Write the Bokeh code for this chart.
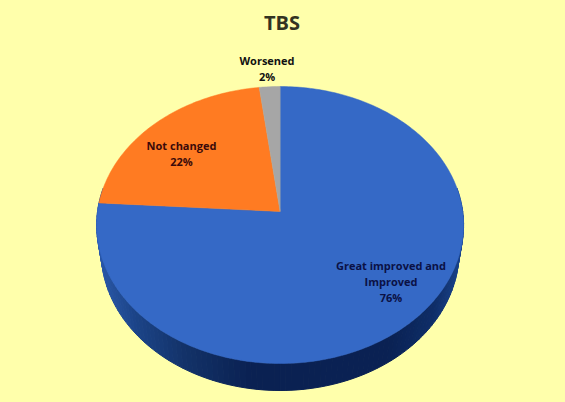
import numpy as np
from bokeh.plotting import figure
from bokeh.embed import file_html
from bokeh.resources import INLINE
from bokeh.core.properties import value

# ---- chart data ----
title = "TBS"
categories = ["Great improved and Improved", "Not changed", "Worsened"]
values = [76, 22, 2]
colors = ["#3569C6", "#FF7B22", "#A6A6A6"]
label_lines = [["Great improved and", "Improved", "76%"], ["Not changed", "22%"], ["Worsened", "2%"]]
label_colors = ["#0B1145", "#3A0A0A", "#111111"]

# ---- layout (page pixels) ----
BG = "#FFFFAB"
W, H = 565, 402
AX, AY = 279.6, 211.0          # apex of the pie on the page
RX, RY, PERSP = 182.6, 137.2, 0.0975
LABEL_POS = [(390.5, 264.5), (181, 145), (266.5, 60)]
LINE_H = 16.2


def project(theta, rx=RX, ry=RY, cx=AX, cy=AY):
    """Clockwise angle from top on a flat disc -> page pixels with perspective."""
    u, v = np.sin(theta), np.cos(theta)
    d = 1 + PERSP * v
    return cx + rx * u / d, cy - ry * v / d


p = figure(width=W, height=H, x_range=(0, W), y_range=(H, 0),
           output_backend="svg", toolbar_location=None,
           background_fill_color=BG, border_fill_color=BG, min_border=0)
p.axis.visible = False
p.grid.visible = False
p.outline_line_color = None

# ---- wall of the 3D pie ----
wall_stops = [(0.0, "#2A58A8"), (0.1, "#1C4488"), (0.24, "#133268"), (0.42, "#0A2152"),
              (0.8, "#0A2254"), (0.92, "#0F2E68"), (1.0, "#1B458E")]
def wall_color(f):
    xs = [s[0] for s in wall_stops]
    rgb = [[int(s[1][i:i + 2], 16) for s in wall_stops] for i in (1, 3, 5)]
    return "#%02x%02x%02x" % tuple(int(np.interp(f, xs, c)) for c in rgb)

angles = np.radians(np.linspace(80, 280, 121))
tx, ty = project(angles)
bx, by = project(angles, rx=178.0, ry=137.2, cy=238.0)
for i in range(len(angles) - 1):
    c = wall_color((tx[i] + tx[i + 1] - 2 * 97) / 2 / 367)
    p.patch([tx[i], tx[i + 1], bx[i + 1], bx[i]], [ty[i], ty[i + 1], by[i + 1], by[i]],
            fill_color=c, line_color=c, line_width=1)

# ---- top face ----
edges = np.cumsum([0] + values) / sum(values) * 2 * np.pi
for a0, a1, col in zip(edges[:-1], edges[1:], colors):
    t = np.linspace(a0, a1, max(3, int((a1 - a0) * 60)))
    x, y = project(t)
    p.patch([AX, *x], [AY, *y], fill_color=col, line_color=col, line_width=0.5)

# ---- texts ----
p.text([281.5], [21.5], text=[title], text_font=value("Open Sans"), text_font_style="bold",
       text_font_size="20px", text_color="#333322", text_align="center", text_baseline="middle")
for lines, (lx, ly), tc in zip(label_lines, LABEL_POS, label_colors):
    for k, line in enumerate(lines):
        p.text([lx], [ly + k * LINE_H], text=[line], text_font=value("Open Sans"), text_font_style="bold",
               text_font_size="11px", text_color=tc, text_align="center", text_baseline="middle")

html = file_html(p, INLINE)
html = html.replace("<head>", "<head><style>html,body{background:%s;margin:0;padding:0}</style>" % BG, 1)
open("out.html", "w").write(html)
